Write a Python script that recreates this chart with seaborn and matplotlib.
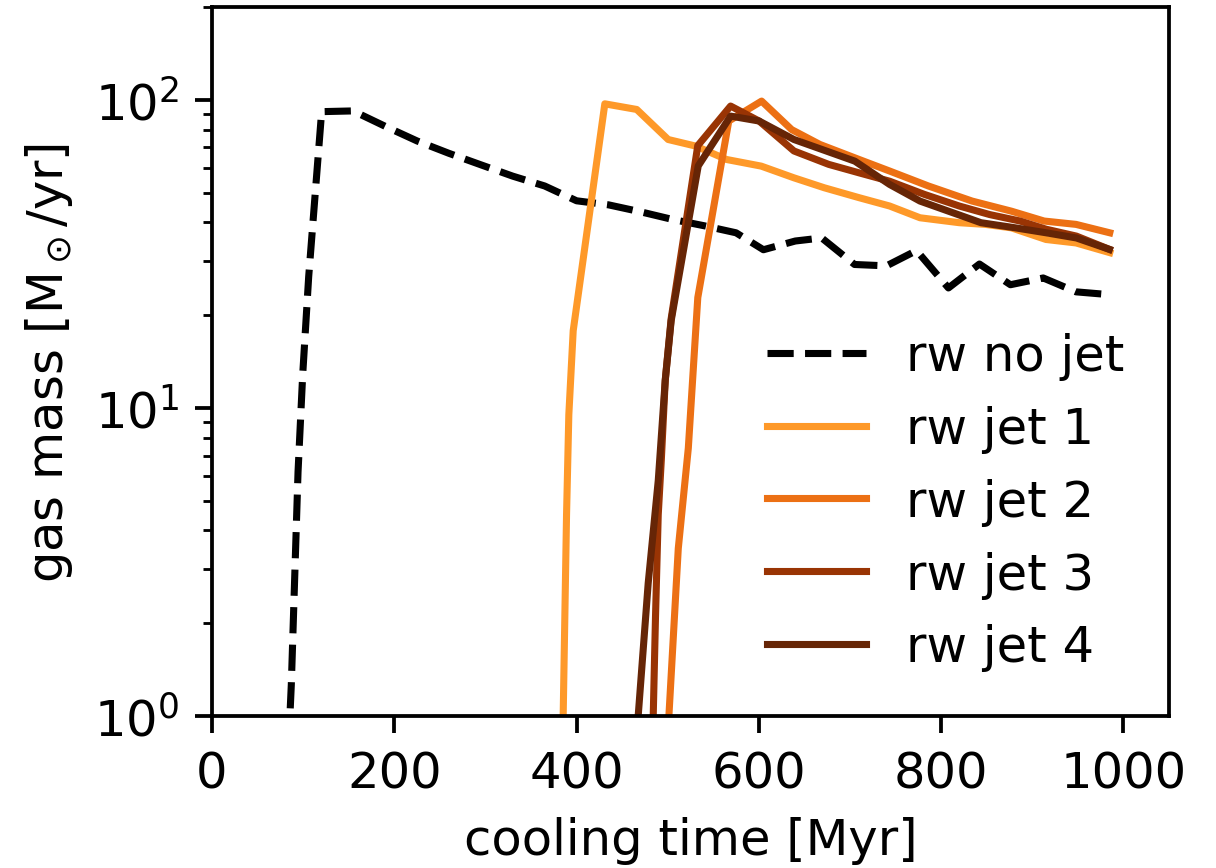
import numpy as np
import pandas as pd
import matplotlib
matplotlib.use("Agg")
import matplotlib.pyplot as plt
import seaborn as sns

# --- data ---
nojet_x = [84, 87, 94.4, 99.5, 106.1, 120.3, 154.8, 190, 225, 260, 295, 330, 365, 400,
           435, 470, 505, 540, 575, 605, 640, 669, 705, 740, 773, 808, 842, 876, 912, 948, 985]
nojet_y = [0.8, 1.26, 6.2, 12.8, 26.7, 91.5, 92, 82, 73.5, 67, 61.5, 56.5, 52.5, 47,
           45.6, 43.3, 40.9, 39, 37, 32.6, 34.8, 35.6, 29.2, 28.9, 32.4, 24.5, 29.3, 25.1, 26.4, 23.8, 23.3]

jet1_x = [383, 385.3, 389, 391.5, 396.3, 431, 466, 500.5, 531, 564.5, 602.6, 638.5, 671.8,
          710, 743.5, 776.8, 819.9, 848.5, 877, 915, 948, 985]
jet1_y = [0.7, 1.0, 4.5, 9.5, 17.8, 97, 93, 74.3, 70.7, 64, 60.9, 55.8, 51.8,
          48.1, 45.2, 41.4, 39.9, 39.4, 38.4, 35.2, 34.3, 31.9]

jet2_x = [499, 501.3, 511.6, 522.6, 533, 567, 603, 636, 667, 710, 743.5, 786, 834, 877, 913, 948, 985]
jet2_y = [0.8, 1.0, 3.5, 7.4, 22.8, 85.3, 99, 80, 71.6, 64, 58.7, 52.5, 46.9, 43.5, 40.4, 39.4, 37]

jet3_x = [483, 484.1, 486.6, 489.6, 493, 497.3, 503.8, 533, 569, 600.3, 638.5, 676.6, 710.1,
          743.5, 781.6, 819.9, 853.3, 886.6, 915.3, 948.4, 984.5]
jet3_y = [0.8, 1.0, 2.1, 4.5, 6.8, 12.3, 19.5, 71, 95.4, 85.3, 68.2, 61.7, 57.9,
          54.4, 49.3, 45.2, 42.4, 40.4, 38.0, 36.1, 32.7]

jet4_x = [466, 467.6, 478.6, 489.6, 497.3, 503.8, 533.5, 569, 600.3, 638.5, 705.3, 743.5,
          776.8, 843.7, 881.4, 915.3, 948.4, 984.5]
jet4_y = [0.8, 1.0, 2.7, 5.8, 12.3, 19.2, 61, 88.5, 85.3, 74.3, 63.2, 53.1,
          46.9, 39.9, 38.4, 37.0, 35.6, 32.7]

labels = ["rw no jet", "rw jet 1", "rw jet 2", "rw jet 3", "rw jet 4"]
colors = ["black", "#fe9929", "#ec7014", "#993404", "#662506"]
styles = ["--", "-", "-", "-", "-"]

series = [(nojet_x, nojet_y), (jet1_x, jet1_y), (jet2_x, jet2_y),
          (jet3_x, jet3_y), (jet4_x, jet4_y)]

FS = 10.5
plt.rcParams["font.size"] = FS
plt.rcParams["legend.fontsize"] = FS
plt.rcParams["xtick.labelsize"] = FS
plt.rcParams["ytick.labelsize"] = FS
plt.rcParams["axes.labelsize"] = FS

DPI = 340
fig = plt.figure(figsize=(1216 / DPI, 869 / DPI), dpi=DPI)
ax = fig.add_axes([212 / 1216, 1 - 717 / 869, (1169 - 212) / 1216, (717 - 8) / 869])

for (xs, ys), lab, col, ls in zip(series, labels, colors, styles):
    df = pd.DataFrame({"t": xs, "m": ys})
    sns.lineplot(data=df, x="t", y="m", ax=ax, color=col, linestyle=ls,
                 label=lab, estimator=None, sort=False, linewidth=1.5)

ax.set_yscale("log")
ax.set_xlim(0, 1050)
ax.set_ylim(1, 200)
ax.set_xticks([0, 200, 400, 600, 800, 1000])
ax.set_xlabel("cooling time [Myr]")
ax.set_ylabel(r"gas mass [M$_\odot$/yr]")
ax.legend(loc="lower right", frameon=False)

fig.savefig("out.png", dpi=DPI)
